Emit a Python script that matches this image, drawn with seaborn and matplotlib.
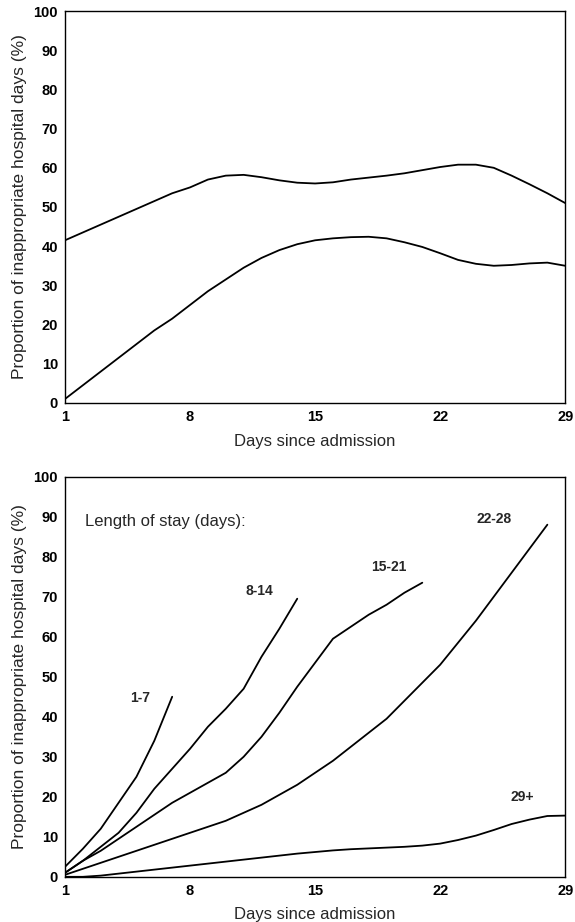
import pandas as pd
import matplotlib.pyplot as plt
import seaborn as sns

# values (percent of inappropriate days)
days = list(range(1, 30))
upper_band = [41.5, 43.5, 45.5, 47.5, 49.5, 51.5, 53.5, 55.0, 57.0, 58.0,
              58.2, 57.6, 56.8, 56.2, 56.0, 56.3, 57.0, 57.5, 58.0, 58.6,
              59.4, 60.2, 60.8, 60.8, 60.0, 58.0, 55.8, 53.5, 51.0]
lower_band = [1.0, 4.5, 8.0, 11.5, 15.0, 18.5, 21.5, 25.0, 28.5, 31.5,
              34.5, 37.0, 39.0, 40.5, 41.5, 42.0, 42.3, 42.4, 42.0, 41.0,
              39.8, 38.2, 36.5, 35.5, 35.0, 35.2, 35.6, 35.8, 35.0]

stay_groups = ['1-7', '8-14', '15-21', '22-28', '29+']
stay_1_7 = [2.5, 7.0, 12.0, 18.5, 25.0, 34.0, 45.0]
stay_8_14 = [1.0, 4.0, 7.5, 11.0, 16.0, 22.0, 27.0, 32.0, 37.5, 42.0,
             47.0, 55.0, 62.0, 69.5]
stay_15_21 = [1.0, 4.0, 6.5, 9.5, 12.5, 15.5, 18.5, 21.0, 23.5, 26.0,
              30.0, 35.0, 41.0, 47.5, 53.5, 59.5, 62.5, 65.5, 68.0, 71.0, 73.5]
stay_22_28 = [0.5, 2.0, 3.5, 5.0, 6.5, 8.0, 9.5, 11.0, 12.5, 14.0,
              16.0, 18.0, 20.5, 23.0, 26.0, 29.0, 32.5, 36.0, 39.5, 44.0,
              48.5, 53.0, 58.5, 64.0, 70.0, 76.0, 82.0, 88.0]
stay_29_plus = [0.0, 0.0, 0.3, 0.8, 1.3, 1.8, 2.3, 2.8, 3.3, 3.8,
                4.3, 4.8, 5.3, 5.8, 6.2, 6.6, 6.9, 7.1, 7.3, 7.5,
                7.8, 8.3, 9.2, 10.3, 11.7, 13.2, 14.3, 15.2, 15.3]

# label anchors for each group (day, percent)
label_day = [5.2, 11.9, 19.1, 25.0, 26.6]
label_pct = [44.7, 71.5, 77.5, 89.3, 20.0]

xticks = [1, 8, 15, 22, 29]
yticks = list(range(0, 101, 10))


def build_frames():
    top = pd.DataFrame({
        'Day': days * 2,
        'Pct': upper_band + lower_band,
        'Band': ['upper'] * len(days) + ['lower'] * len(days),
    })
    series = [stay_1_7, stay_8_14, stay_15_21, stay_22_28, stay_29_plus]
    rows = []
    for name, vals in zip(stay_groups, series):
        for d, v in zip(days, vals):
            rows.append({'Day': d, 'Pct': v, 'Stay': name})
    bottom = pd.DataFrame(rows)
    return top, bottom


def style_axis(ax):
    ax.set_xlim(1, 29)
    ax.set_ylim(0, 100)
    ax.set_xticks(xticks)
    ax.set_yticks(yticks)
    for lab in ax.get_xticklabels() + ax.get_yticklabels():
        lab.set_fontweight('bold')
        lab.set_fontsize(10.5)
    ax.tick_params(direction='out', length=3, width=1, pad=2, colors='black')
    for s in ax.spines.values():
        s.set_visible(True)
        s.set_color('black')
        s.set_linewidth(1.0)
    ax.set_xlabel('Days since admission', fontsize=12, labelpad=7)
    ax.set_ylabel('Proportion of inappropriate hospital days (%)', fontsize=12.5, labelpad=5)


def main():
    sns.set_style('white')
    plt.rcParams['font.family'] = ['Liberation Sans', 'DejaVu Sans']
    top, bottom = build_frames()

    fig = plt.figure(figsize=(5.75, 9.22), dpi=100)
    ax1 = fig.add_axes([0.113, 0.563, 0.870, 0.425])
    ax2 = fig.add_axes([0.113, 0.049, 0.870, 0.434])

    sns.lineplot(data=top, x='Day', y='Pct', hue='Band', estimator=None,
                 palette={'upper': 'black', 'lower': 'black'},
                 linewidth=1.3, legend=False, ax=ax1)
    style_axis(ax1)

    sns.lineplot(data=bottom, x='Day', y='Pct', hue='Stay', estimator=None,
                 palette={k: 'black' for k in stay_groups},
                 linewidth=1.3, legend=False, ax=ax2)
    style_axis(ax2)

    ax2.text(2.1, 88.8, 'Length of stay (days):', fontsize=12, va='center')
    for name, d, p in zip(stay_groups, label_day, label_pct):
        ax2.text(d, p, name, fontsize=10, fontweight='bold', ha='center', va='center')

    fig.savefig('out.png', dpi=100)


if __name__ == '__main__':
    main()
